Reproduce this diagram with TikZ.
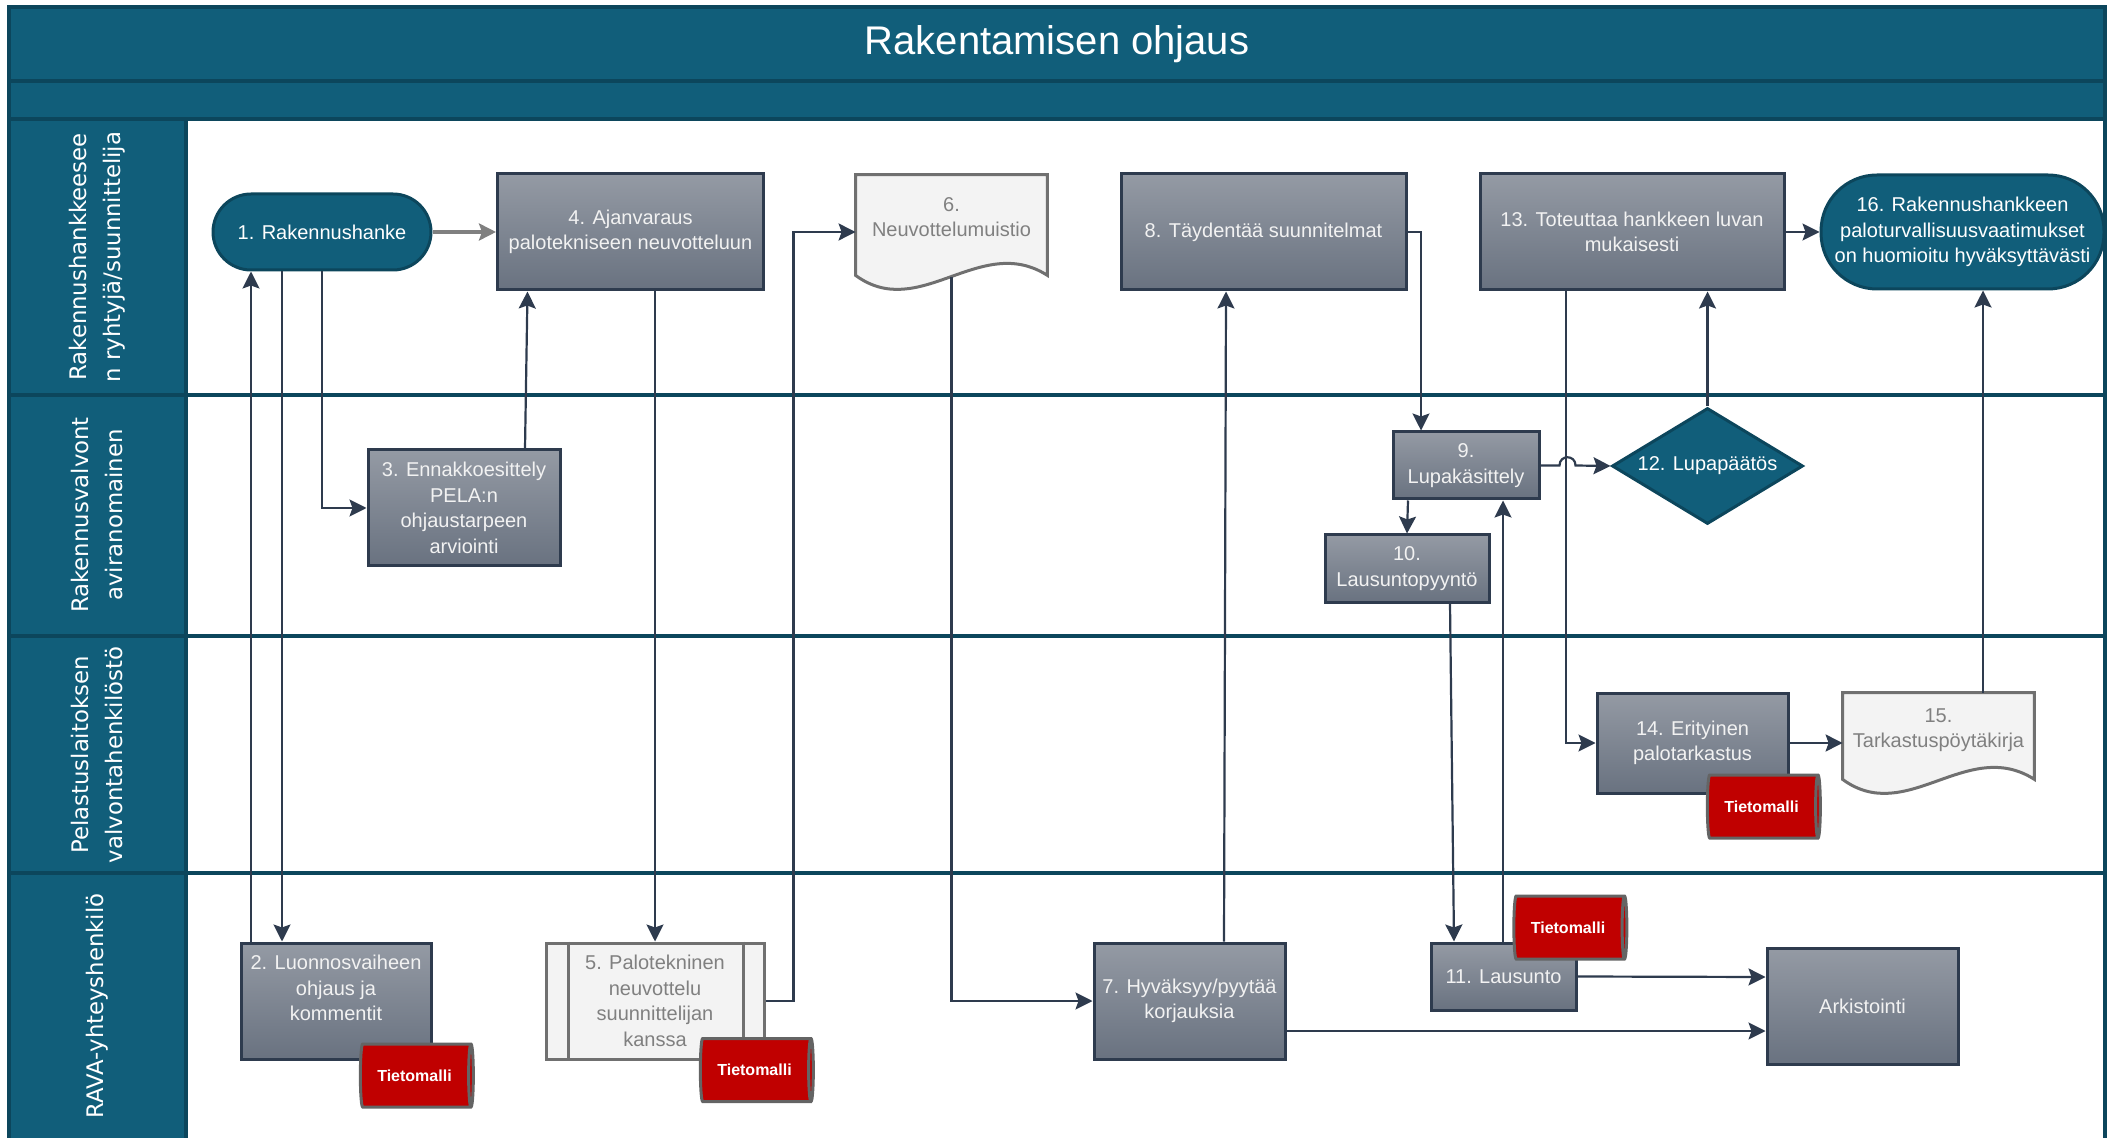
\documentclass[tikz,border=0pt]{standalone}
\usepackage{fontspec}
\setmainfont{Liberation Sans}
\newfontfamily\lanefont{DejaVu Sans}
\usepackage{tikz}
\usetikzlibrary{shapes.geometric, arrows.meta, calc}

\definecolor{laneteal}{RGB}{17, 94, 122}
\definecolor{edgeteal}{RGB}{12, 70, 92}
\definecolor{taskgraytop}{RGB}{148, 154, 164}
\definecolor{taskgraybot}{RGB}{105, 114, 128}
\definecolor{slate1}{RGB}{46, 59, 78}
\definecolor{paper1}{RGB}{243, 243, 243}
\definecolor{paperedge}{RGB}{112, 112, 112}
\definecolor{papertext}{RGB}{128, 128, 128}
\definecolor{modelred}{RGB}{192, 0, 0}
\definecolor{modeledge}{RGB}{100, 100, 100}

% wavy document outline round an empty node
\newcommand{\paperdoc}[1]{%
  \draw[paperedge, line width=1.5pt, fill=paper1] (#1.north west) -- (#1.north east)
    -- ($(#1.south east)+(0,-14)$)
    .. controls ($(#1.south east)+(-67,-57)$) and ($(#1.south west)+(64,33)$) .. ($(#1.south west)+(0,-14)$)
    -- cycle;}

\begin{document}
\begin{tikzpicture}[x=0.5pt, y=-0.5pt,
    txt/.style={font=\fontsize{10}{12.8}\selectfont, align=center},
    task/.style={txt, draw=slate1, line width=1.5pt, top color=taskgraytop, bottom color=taskgraybot, text=white!95!black, inner sep=2pt},
    subproc/.style={txt, draw=paperedge, line width=1.5pt, fill=paper1, text=papertext, inner sep=2pt},
    terminal/.style={txt, draw=edgeteal, line width=1.5pt, fill=laneteal, text=white, inner sep=2pt},
    paper/.style={txt, inner sep=0pt},
    papertxt/.style={txt, text=papertext},
    model/.style={cylinder, shape border rotate=0, aspect=0.3, draw=modeledge, line width=1.5pt,
      cylinder uses custom fill, cylinder body fill=modelred, cylinder end fill=modelred,
      text=white, font=\fontsize{8}{9}\selectfont\bfseries, minimum width=31.5pt, minimum height=56.5pt, inner sep=1pt},
    lane/.style={rotate=90, text=white, align=center, font=\lanefont\fontsize{11.4}{17}\selectfont},
    laneline/.style={edgeteal, line width=1.8pt},
    flow/.style={draw=slate1, line width=1.1pt, -{Stealth[length=8.5pt, width=8.5pt, inset=1.5pt]}},
    flowgray/.style={draw=gray, line width=1.8pt, -{Stealth[length=8.5pt, width=8.5pt, inset=1.5pt]}}
  ]
  \useasboundingbox (0,0) rectangle (2114,1138);

  % Pool frame and lanes
  \fill[laneteal] (9,7) rectangle (2105,119);
  \fill[laneteal] (9,119) rectangle (186,1142);
  \draw[laneline] (9,1142) -- (9,7) -- (2105,7) -- (2105,1142);
  \draw[laneline] (9,81) -- (2105,81);
  \foreach \y in {119,395,636,873}
    \draw[laneline] (9,\y) -- (2105,\y);
  \draw[laneline] (186,119) -- (186,1142);

  \node[font=\fontsize{20}{24}\selectfont, text=white] (title) at (1057,44) {Rakentamisen ohjaus};
  \node[lane] (lane1) at (97,257) {Rakennushankkeesee\\n ryhtyjä/suunnittelija};
  \node[lane] (lane2) at (97,515) {Rakennusvalvont\\aviranomainen};
  \node[lane] (lane3) at (97,755) {Pelastuslaitoksen\\valvontahenkilöstö};
  \node[lane] (lane4) at (97,1006) {RAVA-yhteyshenkilö};

  % Lane 1
  \node[terminal, rounded corners=19pt, minimum width=109pt, minimum height=38pt] (n1) at (322,232) {1. Rakennushanke};
  \node[task, minimum width=133pt, minimum height=58pt] (n4) at (630.5,232) {4. Ajanvaraus\\palotekniseen neuvotteluun};
  \node[paper, minimum width=95.5pt, minimum height=57pt] (n6) at (951.5,232) {};
  \paperdoc{n6}
  \node[papertxt] (n6t) at (951.5,217) {6.\\Neuvottelumuistio};
  \node[task, minimum width=142.5pt, minimum height=58pt] (n8) at (1263.5,232) {8. Täydentää suunnitelmat};
  \node[task, minimum width=152pt, minimum height=58pt] (n13) at (1632,232) {13. Toteuttaa hankkeen luvan\\mukaisesti};
  \node[terminal, rounded corners=28pt, minimum width=141.5pt, minimum height=57pt] (n16) at (1962.5,232) {16. Rakennushankkeen\\paloturvallisuusvaatimukset\\on huomioitu hyväksyttävästi};

  % Lane 2
  \node[task, minimum width=96pt, minimum height=58pt] (n3) at (464,508) {3. Ennakkoesittely\\PELA:n\\ohjaustarpeen\\arviointi};
  \node[task, minimum width=73pt, minimum height=33.5pt] (n9) at (1466,465.5) {9.\\Lupakäsittely};
  \node[task, minimum width=82pt, minimum height=33.5pt] (n10) at (1407,568.5) {10.\\Lausuntopyyntö};
  \node[diamond, aspect=1.65, txt, draw=edgeteal, line width=1.5pt, fill=laneteal, text=white, minimum width=95.5pt, minimum height=58pt, inner sep=0pt] (n12) at (1707.5,466) {12. Lupapäätös};

  % Lane 3
  \node[task, minimum width=95.5pt, minimum height=50pt] (n14) at (1692.5,743) {14. Erityinen\\palotarkastus};
  \node[paper, minimum width=95.5pt, minimum height=50pt] (n15) at (1938.5,743) {};
  \paperdoc{n15}
  \node[papertxt] (n15t) at (1938.5,730) {15.\\Tarkastuspöytäkirja};
  \node[model] (m14) at (1761.5,806.5) {Tietomalli};

  % Lane 4
  \node[task, minimum width=95pt, minimum height=58pt] (n2) at (336,1001) {};
  \node[txt, text=white!95!black] (n2t) at (336,988) {2. Luonnosvaiheen\\ohjaus ja\\kommentit};
  \node[model] (m2) at (414.5,1075.5) {Tietomalli};
  \node[subproc, minimum width=109pt, minimum height=58pt] (n5) at (655,1001) {5. Palotekninen\\neuvottelu\\suunnittelijan\\kanssa};
  \draw[paperedge, line width=1.5pt] ($(n5.north west)+(24,0)$) -- ($(n5.south west)+(24,0)$)
    ($(n5.north east)+(-22,0)$) -- ($(n5.south east)+(-22,0)$);
  \node[model] (m5) at (754.5,1070) {Tietomalli};
  \node[task, minimum width=95.5pt, minimum height=58pt] (n7) at (1189.5,1001) {7. Hyväksyy/pyytää\\korjauksia};
  \node[task, minimum width=72.5pt, minimum height=33.5pt] (n11) at (1503.5,976.5) {11. Lausunto};
  \node[model] (m11) at (1568,927.5) {Tietomalli};
  \node[task, minimum width=95.5pt, minimum height=58pt] (nA) at (1862.5,1006) {Arkistointi};

  % Connectors
  \draw[flowgray] (n1.east) -- (n4.west);
  \draw[flow] ($(n1.south)+(-40,0)$) -- ($(n2.north)+(-54,0)$);
  \draw[flow] ($(n2.north)+(-85,0)$) -- ($(n1.south)+(-71,0)$);
  \draw[flow] (n1.south) |- (n3.west);
  \draw[flow] ($(n3.north)+(61,0)$) -- ($(n4.south)+(-103,0)$);
  \draw[flow] (n5.north |- n4.south) -- (n5.north);
  \draw[flow] (n5.east) -- ++(28,0) |- (n6.west);
  \draw[flow] ($(n6.south)+(0,-12)$) |- (n7.west);
  \draw[flow] ($(n7.north)+(34.5,0)$) -- ($(n8.south)+(-37.5,0)$);
  \draw[flow] ($(n7.east)+(0,30)$) -- ($(nA.west)+(0,25)$);
  \draw[flow] (n8.east) -| ($(n9.north)+(-45,0)$);
  \draw[flow] ($(n9.south)+(-58,0)$) -- (n10.north);
  \draw[flow] ($(n10.south)+(43,0)$) -- ($(n11.north)+(-49.5,0)$);
  \draw[flow] ($(n11.north)+(-0.5,0)$) -- ($(n9.south)+(37,0)$);
  \draw[flow] (n11.east) -- ($(nA.west)+(0,-29)$);
  \draw[flow] (n9.east) -- ++(19,0) .. controls +(0,-11) and +(0,-11) .. ++(16,0) -- (n12.west);
  \draw[flow] (n12.north) -- (n12.north |- n13.south);
  \draw[flow] (n13.east) -- (n16.west);
  \draw[flow] ($(n13.south)+(-66,0)$) |- (n14.west);
  \draw[flow] (n14.east) -- (n15.west);
  \coordinate (c15) at ($(n15.north)+(44.5,0)$);
  \draw[flow] (c15) -- (c15 |- n16.south);
\end{tikzpicture}
\end{document}
